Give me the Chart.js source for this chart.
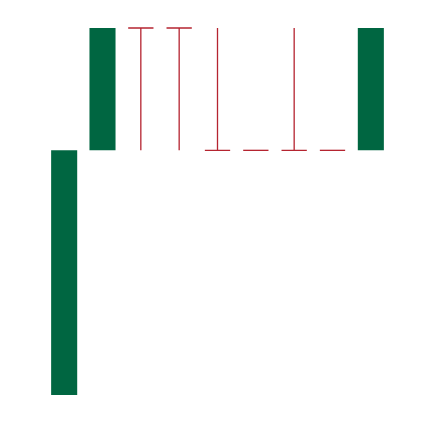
<!DOCTYPE html>
<html>
<head>
<meta charset="utf-8">
<script src="https://cdn.jsdelivr.net/npm/chart.js@4/dist/chart.umd.min.js"></script>
<style>html,body{margin:0;padding:0;background:#fff;}canvas{display:block;}</style>
</head>
<body>
<canvas id="c" width="434" height="422"></canvas>
<script>
const categories = ['1','2','3','4','5','6','7','8','9'];
const barLow  = [0, 2, null, null, null, null, null, null, 2];
const barHigh = [2, 3, null, null, null, null, null, null, 3];
const whiskerLow  = [null, null, 2, 2, 2, 2, 2, 2, null];
const whiskerHigh = [null, null, 3, 3, 3, 2, 3, 2, null];
const capPosition = [null, null, 'high', 'high', 'low', 'low', 'low', 'low', null];

const green = '#006641';
const red = '#B52430';

const floating = categories.map((c, i) => barLow[i] === null ? null : [barLow[i], barHigh[i]]);

const whiskerPlugin = {
  id: 'whiskers',
  afterDatasetsDraw(chart) {
    const ctx = chart.ctx;
    const x = chart.scales.x, y = chart.scales.y;
    const step = x.getPixelForValue(1) - x.getPixelForValue(0);
    const half = step * 0.66 / 2;
    ctx.save();
    ctx.strokeStyle = red;
    ctx.lineWidth = 1.3;
    categories.forEach((c, i) => {
      if (whiskerLow[i] === null) return;
      const px = x.getPixelForValue(i);
      const yl = y.getPixelForValue(whiskerLow[i]);
      const yh = y.getPixelForValue(whiskerHigh[i]);
      ctx.beginPath();
      if (yl !== yh) { ctx.moveTo(px, yl); ctx.lineTo(px, yh); }
      const yc = capPosition[i] === 'high' ? yh : yl;
      ctx.moveTo(px - half, yc); ctx.lineTo(px + half, yc);
      ctx.stroke();
    });
    ctx.restore();
  }
};

new Chart(document.getElementById('c'), {
  type: 'bar',
  data: {
    labels: categories,
    datasets: [{
      data: floating,
      backgroundColor: green,
      borderWidth: 0,
      categoryPercentage: 1,
      barPercentage: 0.68
    }]
  },
  options: {
    responsive: false,
    animation: false,
    devicePixelRatio: 1,
    layout: { padding: { left: 45, right: 44, top: 28, bottom: 27 } },
    plugins: { legend: { display: false }, tooltip: { enabled: false } },
    scales: {
      x: { display: false },
      y: { display: false, min: 0, max: 3 }
    }
  },
  plugins: [whiskerPlugin]
});
</script>
</body>
</html>
